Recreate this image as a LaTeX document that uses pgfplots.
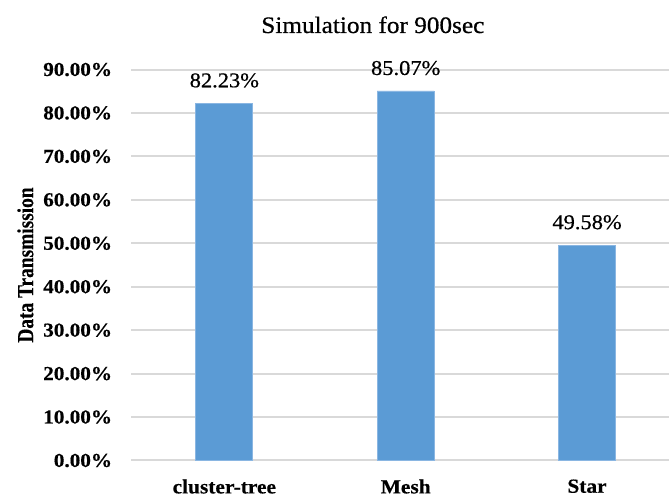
\documentclass[border=0pt]{standalone}
\usepackage{fontspec}
\setmainfont{Liberation Serif}
\newfontfamily\wide{Liberation Serif}[FakeStretch=1.07]
\newfontfamily\wideheavy{Liberation Serif}[FakeStretch=1.07, BoldFeatures={FakeBold=0.4}]
\newfontfamily\widebold{Liberation Serif}[FakeStretch=1.07, FakeBold=0.6]
\newfontfamily\narrow{Liberation Serif}[FakeStretch=0.85, BoldFeatures={FakeBold=0.4}]
\usepackage{pgfplots}
\pgfplotsset{compat=1.18}
\definecolor{barblue}{HTML}{5B9BD5}
\definecolor{baredge}{HTML}{8AB6E2}
\definecolor{gridgray}{HTML}{D9D9D9}

\begin{document}
\begin{tikzpicture}
  \begin{axis}[
    scale only axis,
    width=268.75pt, height=195.5pt,
    ybar, bar width=28.5pt,
    xmin=-0.512, xmax=2.452,
    ymin=0, ymax=90,
    xtick={0,1,2},
    xticklabels={cluster-tree, Mesh, Star},
    ytick={0,10,...,90},
    /pgf/number format/assume math mode=true,
    yticklabel={\pgfmathprintnumber[fixed,fixed zerofill,precision=2]{\tick}\%},
    axis line style={draw=none},
    major tick length=0pt,
    ymajorgrids=true,
    grid style={draw=gridgray, line width=1pt},
    yticklabel style={font=\wideheavy\bfseries\fontsize{9.9}{11}\selectfont,
      anchor=east, inner sep=0pt, xshift=-9.5pt},
    xticklabel style={font=\wideheavy\bfseries\fontsize{10}{12}\selectfont,
      anchor=north, inner sep=0pt, yshift=-9.3pt},
    every axis title shift=0pt,
    title={Simulation for 900sec},
    title style={font=\widebold\fontsize{11.8}{13}\selectfont,
      at={(rel axis cs:0.449,1.0934)}, anchor=base},
    ylabel={Data Transmission},
    ylabel style={font=\narrow\bfseries\fontsize{11.4}{12}\selectfont,
      at={(rel axis cs:-0.183,0.5)}, anchor=base},
    nodes near coords={\pgfmathprintnumber[fixed,fixed zerofill,precision=2]{\pgfplotspointmeta}\%},
    every node near coord/.append style={font=\widebold\fontsize{10.5}{12}\selectfont,
      anchor=base, inner sep=0pt, yshift=8pt},
    clip=false,
  ]
    \addplot[fill=barblue, draw=baredge, line width=0.4pt] coordinates {
      (0, 82.23)
      (1, 85.07)
      (2, 49.58)
    };
  \end{axis}
  \pgfresetboundingbox
  \path[use as bounding box] (-65.75pt,-18.25pt) rectangle (268.75pt,230.25pt);
\end{tikzpicture}
\end{document}
